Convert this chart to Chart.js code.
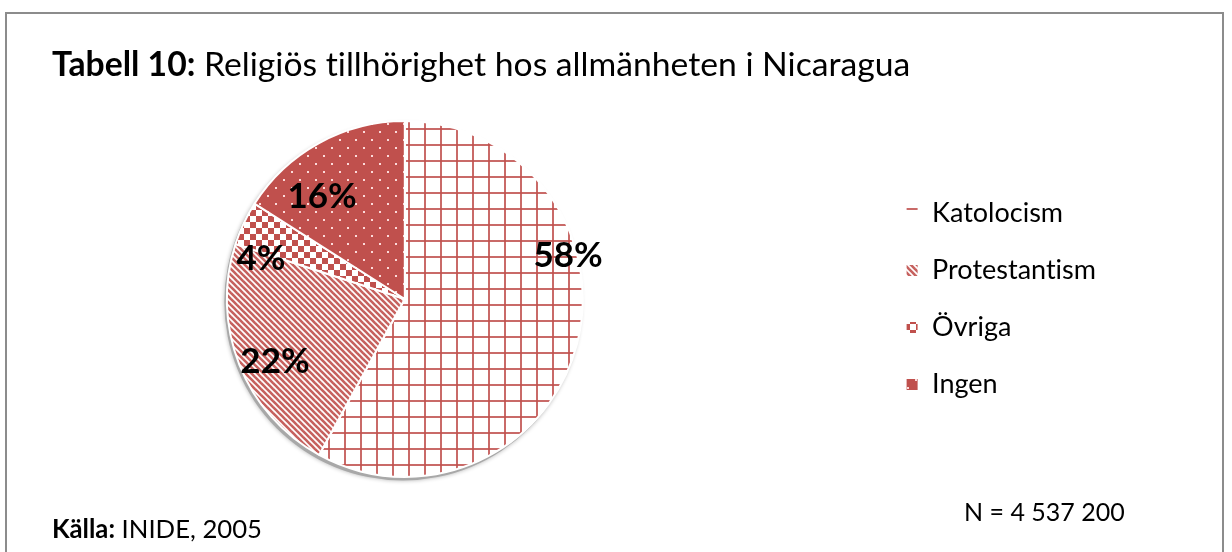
<!DOCTYPE html>
<html>
<head>
<meta charset="utf-8">
<script src="https://cdn.jsdelivr.net/npm/chart.js@4"></script>
<style>
  html, body { margin: 0; padding: 0; background: #fff; }
  body { width: 1232px; height: 552px; position: relative; overflow: hidden; font-family: Lato, "Open Sans", sans-serif; font-variant-ligatures: none; }
  #frame { position: absolute; left: 5px; top: 12px; width: 1219px; height: 600px; border: 2px solid #8c8c8c; box-sizing: border-box; }
  #wrap { position: absolute; left: -200px; top: 0; width: 1432px; height: 552px; }
  .txt { position: absolute; white-space: nowrap; color: #000; line-height: 1; }
  #title { left: 52px; top: 47px; font-size: 33.7px; }
  #src { left: 52px; top: 516px; font-size: 25.7px; }
  #n { left: 964px; top: 499px; font-size: 25px; }
</style>
</head>
<body>
<div id="frame"></div>
<div id="wrap"><canvas id="c" width="1432" height="552"></canvas></div>
<div class="txt" id="title"><b>Tabell 10:</b> Religiös tillhörighet hos allmänheten i Nicaragua</div>
<div class="txt" id="src"><b>Källa:</b> INIDE, 2005</div>
<div class="txt" id="n">N = 4 537 200</div>
<script>
// ---- data ----
const categories = ["Katolocism", "Protestantism", "Övriga", "Ingen"];
const shares = [58, 22, 4, 16];
const valueLabels = ["58%", "22%", "4%", "16%"];

// ---- styling ----
const RED = "#C0504D";
// label placement (degrees shift from slice middle, radius fraction)
const labelAngleShift = [-29.4, -4.2, -9.4, -10.1];
const labelRadius = [0.95, 0.81, 0.84, 0.74];

function makePattern(size, draw) {
  const c = document.createElement("canvas");
  c.width = size; c.height = size;
  const g = c.getContext("2d");
  draw(g, size);
  return g.createPattern(c, "repeat");
}
const ctx0 = document.getElementById("c").getContext("2d");

const gridPat = makePattern(16, (g, s) => {
  g.fillStyle = "#fff"; g.fillRect(0, 0, s, s);
  g.fillStyle = "rgba(192,80,77,0.85)";
  g.fillRect(0, 0, 2, s);
  g.fillRect(0, 0, s, 2);
});
const stripePat = makePattern(6, (g, s) => {
  g.fillStyle = "#fff"; g.fillRect(0, 0, s, s);
  g.strokeStyle = "rgba(192,80,77,0.9)";
  g.lineWidth = 2.6;
  for (let k = -1; k <= 1; k++) {
    g.beginPath();
    g.moveTo(k * s - 1, -1);
    g.lineTo(k * s + s + 1, s + 1);
    g.stroke();
  }
});
const checkPat = makePattern(12, (g, s) => {
  g.fillStyle = "#fff"; g.fillRect(0, 0, s, s);
  g.fillStyle = RED;
  g.fillRect(0, 0, 6, 6);
  g.fillRect(6, 6, 6, 6);
});
const dotPat = makePattern(16, (g, s) => {
  g.fillStyle = RED; g.fillRect(0, 0, s, s);
  g.fillStyle = "rgba(255,225,225,0.95)";
  g.fillRect(3, 3, 2, 2);
  g.fillRect(11, 11, 2, 2);
});

const shadowPlugin = {
  id: "pieShadow",
  beforeDatasetsDraw(chart) {
    const arc = chart.getDatasetMeta(0).data[0];
    if (!arc) return;
    const c = chart.ctx;
    c.save();
    c.beginPath();
    c.arc(arc.x - 2, arc.y + 3, arc.outerRadius + 0.5, 0, Math.PI * 2);
    c.fillStyle = "#a8a8a8";
    c.shadowColor = "rgba(0,0,0,0.3)";
    c.shadowBlur = 4;
    c.fill();
    c.restore();
  }
};

const labelPlugin = {
  id: "sliceLabels",
  afterDatasetsDraw(chart) {
    const c = chart.ctx;
    const meta = chart.getDatasetMeta(0);
    c.save();
    c.font = "bold 35px Lato, 'Open Sans', sans-serif";
    c.fillStyle = "#000";
    c.textAlign = "center";
    c.textBaseline = "middle";
    meta.data.forEach((arc, i) => {
      const mid = (arc.startAngle + arc.endAngle) / 2 + labelAngleShift[i] * Math.PI / 180;
      const r = arc.outerRadius * labelRadius[i];
      c.fillText(valueLabels[i], arc.x + Math.cos(mid) * r, arc.y + Math.sin(mid) * r);
    });
    c.restore();
  }
};

new Chart(ctx0, {
  type: "pie",
  data: {
    labels: categories,
    datasets: [{
      data: shares,
      backgroundColor: [gridPat, stripePat, checkPat, dotPat],
      borderColor: "#ffffff",
      borderWidth: 2,
      hoverOffset: 0
    }]
  },
  options: {
    responsive: false,
    animation: false,
    events: [],
    layout: { padding: { top: 120, bottom: 74, left: 134, right: 126 } },
    plugins: {
      tooltip: { enabled: false },
      title: { display: false },
      legend: {
        position: "right",
        align: "center",
        labels: {
          color: "#000",
          font: { family: "Lato, 'Open Sans', sans-serif", size: 27 },
          boxWidth: 13,
          boxHeight: 13,
          padding: 30
        }
      }
    }
  },
  plugins: [shadowPlugin, labelPlugin]
});
</script>
</body>
</html>
